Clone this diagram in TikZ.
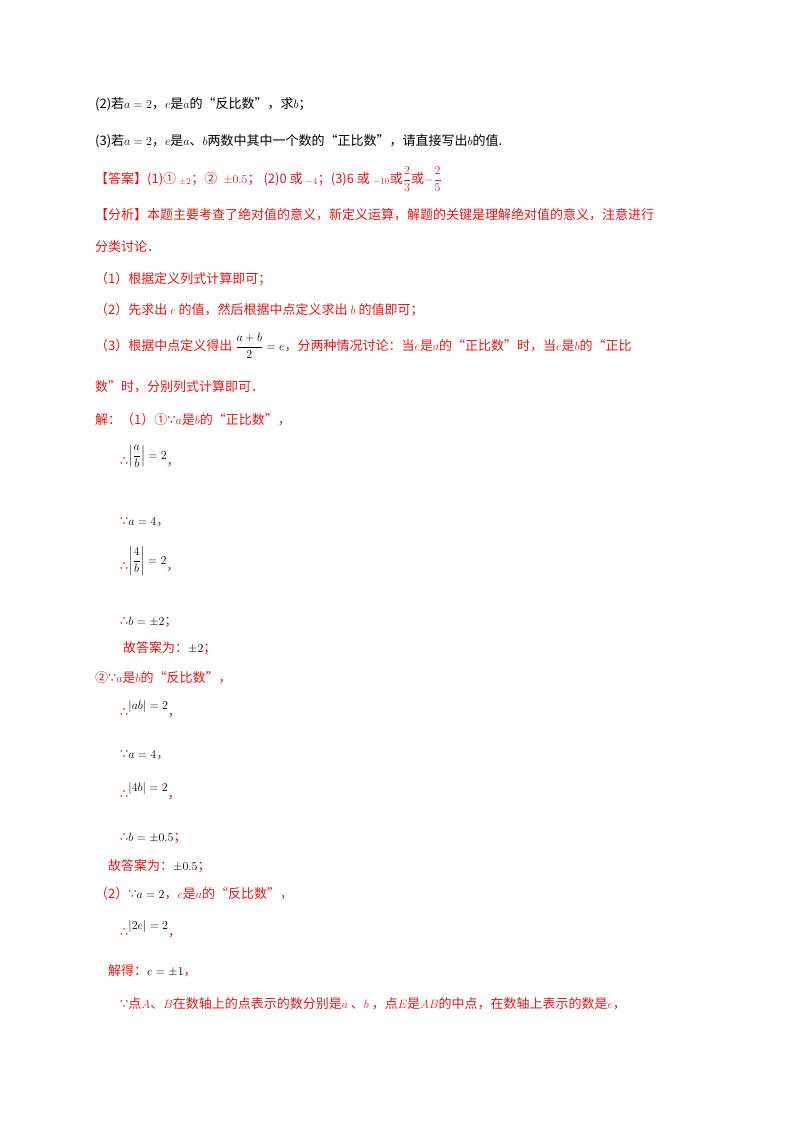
\documentclass[tikz,border=0pt]{standalone}
\usepackage{amsmath}
\usepackage{fontspec}
\setmainfont{Noto Sans CJK SC}
\newfontfamily\djv{DejaVu Sans}
\definecolor{rd}{RGB}{235,20,20}
\begin{document}
\begin{tikzpicture}[x=1pt,y=-1pt,t/.style={anchor=base west,inner sep=0pt,font=\fontsize{13}{15}\selectfont},r/.style={t,text=rd}]
\useasboundingbox (0,0) rectangle (800,1132);
\node[t] (l1) at (95,108) {(2)若$a=2$，$e$是$a$的“反比数”，求$b$；};
\node[t] (l2) at (95,145) {(3)若$a=2$，$e$是$a$、$b$两数中其中一个数的“正比数”，请直接写出$b$的值.};
\node[r] (l3) at (95,183) {【答案】(1)① $_{\pm2}$；② \ $\pm0.5$； (2)0 或 $_{-4}$；(3)6 或 $_{-10}$或$\dfrac{2}{3}$或$-\dfrac{2}{5}$};
\node[r] (l4) at (95,219) {【分析】本题主要考查了绝对值的意义，新定义运算，解题的关键是理解绝对值的意义，注意进行};
\node[r] (l5) at (95,251) {分类讨论．};
\node[r] (l6) at (95,283) {（1）根据定义列式计算即可；};
\node[r] (l7) at (95,314) {（2）先求出 $e$ 的值，然后根据中点定义求出 $b$ 的值即可；};
\node[r] (l8) at (95,350) {（3）根据中点定义得出 \textcolor{black}{$\dfrac{a+b}{2}=e$}，分两种情况讨论：当$e$是$a$的“正比数”时，当$e$是$b$的“正比};
\node[r] (l9) at (95,391) {数”时，分别列式计算即可．};
\node[r] (l10) at (95,424) {解：（1）①{\djv ∵}$a$是$b$的“正比数”，};
\node[r] (l11) at (120,465) {{\djv ∴}\raisebox{6pt}{\textcolor{black}{$\left|\dfrac{a}{b}\right|=2$}}，};
\node[r] (l12) at (120,525) {{\djv ∵}\textcolor{black}{$a=4$}，};
\node[r] (l13) at (120,570) {{\djv ∴}\raisebox{6pt}{\textcolor{black}{$\left|\dfrac{4}{b}\right|=2$}}，};
\node[r] (l14) at (120,625) {{\djv ∴}\textcolor{black}{$b=\pm2$}；};
\node[r] (l15) at (123,652) {故答案为：\textcolor{black}{$\pm2$}；};
\node[r] (l16) at (95,682) {②{\djv ∵}$a$是$b$的“反比数”，};
\node[r] (l17) at (120,716) {{\djv ∴}\raisebox{7pt}{\textcolor{black}{$|ab|=2$}}，};
\node[r] (l18) at (120,758) {{\djv ∵}\textcolor{black}{$a=4$}，};
\node[r] (l19) at (120,798) {{\djv ∴}\raisebox{7pt}{\textcolor{black}{$|4b|=2$}}，};
\node[r] (l20) at (120,841) {{\djv ∴}\textcolor{black}{$b=\pm0.5$}；};
\node[r] (l21) at (108,870) {故答案为：\textcolor{black}{$\pm0.5$}；};
\node[r] (l22) at (95,898) {（2）{\djv ∵}\textcolor{black}{$a=2$}，$e$是$a$的“反比数”，};
\node[r] (l23) at (120,936) {{\djv ∴}\raisebox{7pt}{\textcolor{black}{$|2e|=2$}}，};
\node[r] (l24) at (108,975) {解得：\textcolor{black}{$e=\pm1$}，};
\node[r] (l25) at (120,1008) {{\djv ∵}点$A$、$B$在数轴上的点表示的数分别是$a$ 、$b$ ，点$E$是$AB$的中点，在数轴上表示的数是$e$，};
\end{tikzpicture}
\end{document}
